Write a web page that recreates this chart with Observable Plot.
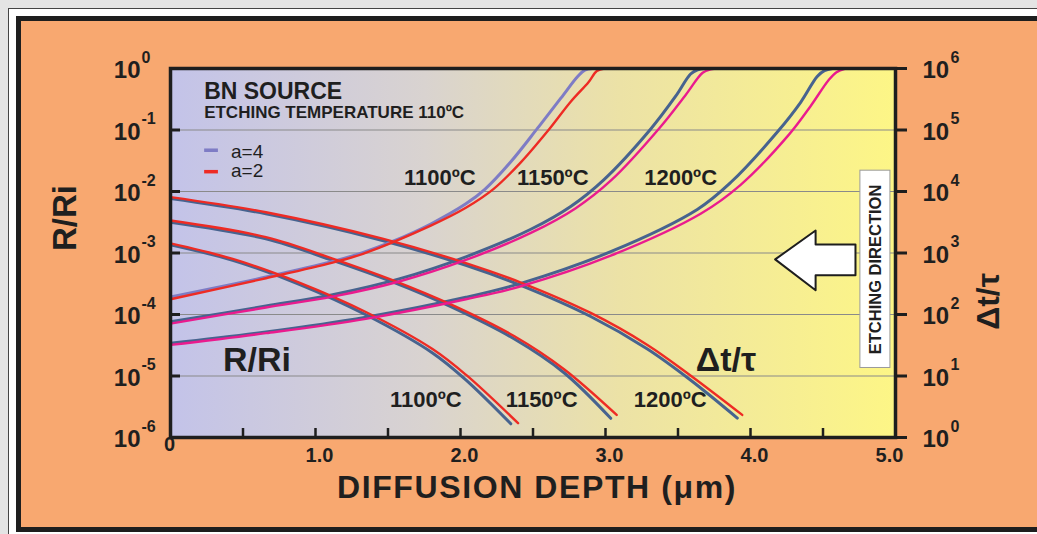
<!DOCTYPE html>
<html><head><meta charset="utf-8">
<script src="https://cdn.jsdelivr.net/npm/d3@7"></script>
<script src="https://cdn.jsdelivr.net/npm/@observablehq/plot@0.6"></script>
<style>
html,body{margin:0;padding:0;overflow:hidden;background:#e4e4e4;width:1037px;height:534px}
#outer{position:absolute;left:8px;top:8px;width:1100px;height:540px;border:1px solid #444;background:#fff}
#inner{position:absolute;left:16px;top:16px;width:1100px;height:506px;border:5px solid #1e1e1e;background:#f8a870}
#chart{position:absolute;left:0;top:0}
</style></head><body>
<div id="outer"></div><div id="inner"></div><div id="chart"></div>
<script>
// ---- axis ticks ----
const xTicks = [0, 0.5, 1, 1.5, 2, 2.5, 3, 3.5, 4, 4.5, 5];
const xLabelValues = [1, 2, 3, 4];
const decades = [1, 1e-1, 1e-2, 1e-3, 1e-4, 1e-5, 1e-6];
const gridDecades = [1e-1, 1e-2, 1e-3, 1e-4, 1e-5];
const leftExponents = ["0", "-1", "-2", "-3", "-4", "-5", "-6"];
const rightExponents = ["6", "5", "4", "3", "2", "1", "0"];
const rightAxisFactor = 1e6; // Δt/τ axis = R/Ri axis × 10^6

// ---- R/Ri curves [depth µm, R/Ri] ----
const rr1100a4 = [[0,1.36e-3],[0.429,7.6e-4],[0.888,3.10e-4],[1.347,9.9e-5],[1.807,2.37e-5],[2.037,8.65e-6],[2.347,1.67e-6]];
const rr1100a2 = [[0,1.43e-3],[0.429,8.0e-4],[0.888,3.31e-4],[1.347,1.10e-4],[1.807,2.75e-5],[2.037,1.05e-5],[2.397,1.71e-6]];
const rr1150a4 = [[0,3.17e-3],[0.658,1.70e-3],[1.118,7.60e-4],[1.531,3.39e-4],[1.933,1.34e-4],[2.369,4.03e-5],[2.714,1.13e-5],[3.036,2.05e-6]];
const rr1150a2 = [[0,3.37e-3],[0.658,1.81e-3],[1.118,8.13e-4],[1.531,3.63e-4],[1.933,1.46e-4],[2.369,4.47e-5],[2.714,1.29e-5],[3.077,2.33e-6]];
const rr1200a4 = [[0,7.67e-3],[0.658,4.34e-3],[1.462,1.60e-3],[2.037,6.31e-4],[2.416,2.98e-4],[2.898,9.29e-5],[3.289,2.75e-5],[3.586,8.61e-6],[3.909,2.07e-6]];
const rr1200a2 = [[0,8.11e-3],[0.658,4.60e-3],[1.462,1.71e-3],[2.037,6.87e-4],[2.416,3.31e-4],[2.898,1.06e-4],[3.289,3.20e-5],[3.586,1.02e-5],[3.943,2.33e-6]];

// ---- Δt/τ curves [depth µm, Δt/τ] ----
const dt1100a4 = [[0,193],[0.658,406],[1.118,726],[1.325,1014],[1.531,1538],[1.795,2965],[2.037,6295],[2.168,10840],[2.347,30410],[2.533,1.08e5],[2.692,3.29e5],[2.808,7.41e5],[2.857,9.44e5],[2.912,1.0e6]];
const dt1100a2 = [[0,177],[0.658,389],[1.118,697],[1.327,971],[1.795,2793],[2.037,5445],[2.229,11040],[2.416,29720],[2.60,95280],[2.76,2.88e5],[2.884,6.04e5],[2.94,9.12e5],[2.994,1.0e6]];
const dt1150a4 = [[0,76],[0.658,137],[1.118,210],[1.577,379],[2.037,867],[2.485,2432],[2.76,5715],[2.988,15490],[3.312,1.04e5],[3.484,3.54e5],[3.587,8.13e5],[3.635,9.55e5],[3.69,1.0e6]];
const dt1150a2 = [[0,71],[0.658,130],[1.118,195],[1.577,344],[2.037,771],[2.485,2118],[2.795,5358],[3.036,14960],[3.38,1.13e5],[3.553,3.72e5],[3.67,8.51e5],[3.725,9.66e5],[3.78,1.0e6]];
const dt1200a4 = [[0,34],[0.658,51.9],[1.347,90.4],[2.037,190.5],[2.416,321],[3.036,1052],[3.633,5117],[3.863,13996],[4.185,92680],[4.346,2.82e5],[4.46,7.41e5],[4.51,9.23e5],[4.566,1.0e6]];
const dt1200a2 = [[0,32],[0.658,49.7],[1.347,85.1],[2.037,177],[2.416,288],[3.036,904],[3.656,4345],[3.93,12700],[4.265,84140],[4.414,2.44e5],[4.538,6.43e5],[4.593,8.71e5],[4.655,1.0e6]];

// ---- colours ----
const cBlue = "#47638f", cPurple = "#7e7cc5", cRed = "#ee2b24", cMagenta = "#ea1b8e", cInk = "#1f1f1f";

const series = [
  {pts: rr1100a4, kind: "rr", color: cBlue, w: 3},
  {pts: rr1150a4, kind: "rr", color: cBlue, w: 3},
  {pts: rr1200a4, kind: "rr", color: cBlue, w: 3},
  {pts: dt1100a4, kind: "dt", color: cPurple, w: 3},
  {pts: dt1150a4, kind: "dt", color: cBlue, w: 3},
  {pts: dt1200a4, kind: "dt", color: cBlue, w: 3},
  {pts: rr1100a2, kind: "rr", color: cRed, w: 2.4},
  {pts: rr1150a2, kind: "rr", color: cRed, w: 2.4},
  {pts: rr1200a2, kind: "rr", color: cRed, w: 2.4},
  {pts: dt1100a2, kind: "dt", color: cRed, w: 2.4},
  {pts: dt1150a2, kind: "dt", color: cMagenta, w: 2.4},
  {pts: dt1200a2, kind: "dt", color: cMagenta, w: 2.4}
];

// ---- annotations (data space) ----
const titleNotes = [{text: "BN SOURCE", x: 0.232, y: 0.416}];
const subNotes = [{text: "ETCHING TEMPERATURE 110ºC", x: 0.232, y: 0.194}];
const legendKeys = [
  {label: "a=4", color: cPurple, yDash: 0.0469, yText: 0.0445},
  {label: "a=2", color: cRed, yDash: 0.0210, yText: 0.0215}
];
const legendDashX = [0.232, 0.327], legendTextX = 0.417;
const tempNotes = [
  {text: "1100ºC", x: 1.857, y: 0.0168}, {text: "1150ºC", x: 2.636, y: 0.0168}, {text: "1200ºC", x: 3.518, y: 0.0168},
  {text: "1100ºC", x: 1.761, y: 4.08e-6}, {text: "1150ºC", x: 2.560, y: 4.08e-6}, {text: "1200ºC", x: 3.446, y: 4.08e-6}
];
const bigNotes = [{text: "R/Ri", x: 0.362, y: 1.82e-5}, {text: "Δt/τ", x: 3.622, y: 1.82e-5}];
const etchBox = {x1: 4.758, x2: 4.965, y1: 0.0218, y2: 1.35e-5, text: "ETCHING DIRECTION", xt: 4.862, yt: 5.4e-4};
const arrowShape = [[4.17,7.87e-4],[4.449,2.32e-3],[4.449,1.38e-3],[4.724,1.38e-3],[4.724,4.34e-4],[4.449,4.34e-4],[4.449,2.48e-4]];
const gradientStops = [[0, "#c3c3e9"], [0.35, "#d9d3d0"], [0.62, "#ece2a6"], [1, "#fdf686"]];

const bold = {fontWeight: "bold", fill: cInk};
const marks = [
  Plot.frame({fill: "url(#bg-grad)", stroke: null}),
  Plot.ruleY(gridDecades, {stroke: "#8a8a8a", strokeWidth: 1.2})
];
for (const s of series) {
  marks.push(Plot.line(s.pts, {
    x: d => d[0],
    y: d => s.kind === "dt" ? d[1] / rightAxisFactor : d[1],
    stroke: s.color, strokeWidth: s.w, curve: "catmull-rom"
  }));
}
marks.push(
  Plot.text(titleNotes, {x: "x", y: "y", text: "text", textAnchor: "start", fontSize: 23, ...bold}),
  Plot.text(subNotes, {x: "x", y: "y", text: "text", textAnchor: "start", fontSize: 17, ...bold}),
  Plot.link(legendKeys, {x1: () => legendDashX[0], x2: () => legendDashX[1], y1: "yDash", y2: "yDash", stroke: "color", strokeWidth: 3.5}),
  Plot.text(legendKeys, {x: () => legendTextX, y: "yText", text: "label", textAnchor: "start", fontSize: 19, fill: cInk}),
  Plot.text(tempNotes, {x: "x", y: "y", text: "text", fontSize: 22, ...bold}),
  Plot.text(bigNotes, {x: "x", y: "y", text: "text", textAnchor: "start", fontSize: 34, ...bold}),
  Plot.rect([etchBox], {x1: "x1", x2: "x2", y1: "y1", y2: "y2", fill: "white", stroke: "#9a9a9a", strokeWidth: 1}),
  Plot.text([etchBox], {x: "xt", y: "yt", text: "text", rotate: -90, fontSize: 16.5, ...bold}),
  Plot.line(arrowShape, {x: d => d[0], y: d => d[1], fill: "white", stroke: "#1e1e1e", strokeWidth: 2, curve: "linear-closed"}),
  // ticks
  Plot.ruleY(decades, {insetRight: 715, stroke: "#1e1e1e", strokeWidth: 3}),
  Plot.axisY(decades, {anchor: "right", tickSize: 11, strokeWidth: 3, stroke: "#1e1e1e", tickFormat: () => "", label: null}),
  Plot.ruleX(xTicks, {insetTop: 360, stroke: "#1e1e1e", strokeWidth: 2.5}),
  Plot.frame({stroke: "#1e1e1e", strokeWidth: 3.5}),
  // left tick labels
  Plot.text(decades, {y: d => d, frameAnchor: "left", text: () => "10", dx: -30, dy: 2, textAnchor: "end", fontSize: 24, ...bold}),
  Plot.text(decades, {y: d => d, frameAnchor: "left", text: (d, i) => leftExponents[i], dx: -29, dy: -11, textAnchor: "start", fontSize: 16, ...bold}),
  // right tick labels
  Plot.text(decades, {y: d => d, frameAnchor: "right", text: () => "10", dx: 27, dy: 2, textAnchor: "start", fontSize: 24, ...bold}),
  Plot.text(decades, {y: d => d, frameAnchor: "right", text: (d, i) => rightExponents[i], dx: 55, dy: -11, textAnchor: "start", fontSize: 16, ...bold}),
  // x tick labels
  Plot.text(xLabelValues, {x: d => d, frameAnchor: "bottom", text: d => d.toFixed(1), dx: 4, dy: 24, fontSize: 20, ...bold}),
  Plot.text([5], {x: d => d, frameAnchor: "bottom", text: d => d.toFixed(1), dx: -6, dy: 24, fontSize: 20, ...bold}),
  Plot.text([0], {x: d => d, frameAnchor: "bottom", text: () => "0", dx: -1, dy: 13, fontSize: 20, ...bold}),
  // axis titles
  Plot.text(["R/Ri"], {frameAnchor: "left", text: d => d, dx: -105, dy: -2, rotate: -90, fontSize: 33, ...bold}),
  Plot.text(["Δt/τ"], {frameAnchor: "right", text: d => d, dx: 93, dy: 20, rotate: -90, fontSize: 32, ...bold}),
  Plot.text(["DIFFUSION DEPTH (μm)"], {frameAnchor: "bottom", text: d => d, dx: 4, dy: 60, fontSize: 32, ...bold})
);

const plot = Plot.plot({
  width: 1037, height: 534,
  marginLeft: 170, marginRight: 142, marginTop: 68, marginBottom: 97,
  style: {background: "transparent", fontFamily: "'Liberation Sans', Arial, Helvetica, sans-serif", color: cInk, overflow: "visible"},
  x: {domain: [0, 5], axis: null},
  y: {type: "log", domain: [1e-6, 1]},
  color: {type: "identity"},
  marks
});
const svgEl = plot.tagName.toLowerCase() === "svg" ? plot : plot.querySelector("svg");
const defs = d3.select(svgEl).insert("defs", ":first-child");
const grad = defs.append("linearGradient").attr("id", "bg-grad").attr("x1", 0).attr("x2", 1).attr("y1", 0).attr("y2", 0);
for (const [o, c] of gradientStops) grad.append("stop").attr("offset", o).attr("stop-color", c);
d3.select(svgEl).selectAll("text").filter(function () { return this.textContent === "DIFFUSION DEPTH (μm)"; }).style("letter-spacing", "1.6px");
document.getElementById("chart").appendChild(plot);
</script></body></html>
